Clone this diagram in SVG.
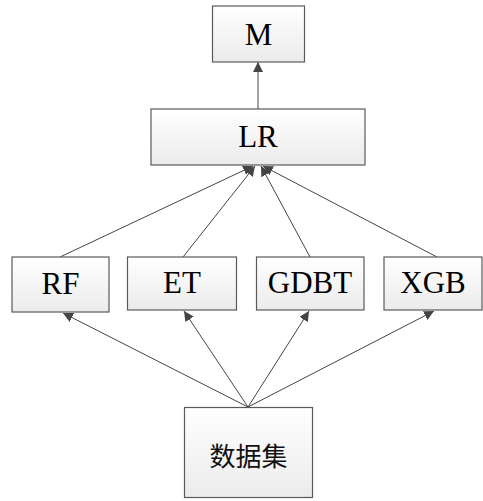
<svg xmlns="http://www.w3.org/2000/svg" width="483" height="501" viewBox="0 0 483 501">
<defs>
<linearGradient id="g" x1="0" y1="0" x2="0" y2="1">
<stop offset="0" stop-color="#ffffff"/>
<stop offset="1" stop-color="#ebebeb"/>
</linearGradient>
<marker id="a" viewBox="0 0 10 10" refX="10" refY="5" markerWidth="10" markerHeight="10" markerUnits="userSpaceOnUse" orient="auto">
<path d="M0,0 L10,5 L0,10 z" fill="#444"/>
</marker>
</defs>
<style>
.box{fill:url(#g);stroke:#5a5a5a;stroke-width:1.2}
.t{font-family:"Liberation Serif","Times New Roman",serif;font-size:31px;fill:#000;text-anchor:middle}
.c{font-family:"Noto Sans CJK SC",sans-serif;font-size:26px;fill:#111;text-anchor:middle}
.ln{stroke:#444;stroke-width:1;fill:none;marker-end:url(#a)}
</style>
<g id="connectors">
<line class="ln" x1="258" y1="109" x2="258" y2="62"/>
<line class="ln" x1="60" y1="257" x2="253" y2="166"/>
<line class="ln" x1="183" y1="257" x2="255" y2="166"/>
<line class="ln" x1="310" y1="257" x2="261" y2="166"/>
<line class="ln" x1="437" y1="257" x2="263" y2="166"/>
<line class="ln" x1="248" y1="407" x2="63" y2="313"/>
<line class="ln" x1="248" y1="407" x2="184" y2="311"/>
<line class="ln" x1="248" y1="407" x2="309" y2="311"/>
<line class="ln" x1="248" y1="407" x2="434" y2="311"/>
</g>
<g id="M"><rect class="box" x="212.5" y="6" width="92" height="56"/><text class="t" x="258.5" y="45">M</text></g>
<g id="LR"><rect class="box" x="151" y="109" width="214" height="56"/><text class="t" x="258" y="147">LR</text></g>
<g id="RF"><rect class="box" x="12" y="257" width="97" height="55"/><text class="t" x="60.5" y="294">RF</text></g>
<g id="ET"><rect class="box" x="127.5" y="257" width="109" height="53"/><text class="t" x="182" y="293">ET</text></g>
<g id="GDBT"><rect class="box" x="256.5" y="257" width="107.5" height="53"/><text class="t" x="310" y="293">GDBT</text></g>
<g id="XGB"><rect class="box" x="384" y="257" width="98" height="53"/><text class="t" x="433" y="293">XGB</text></g>
<g id="dataset"><rect class="box" x="184.5" y="407.5" width="128" height="90"/><text class="c" x="248.5" y="466">数据集</text></g>
</svg>
